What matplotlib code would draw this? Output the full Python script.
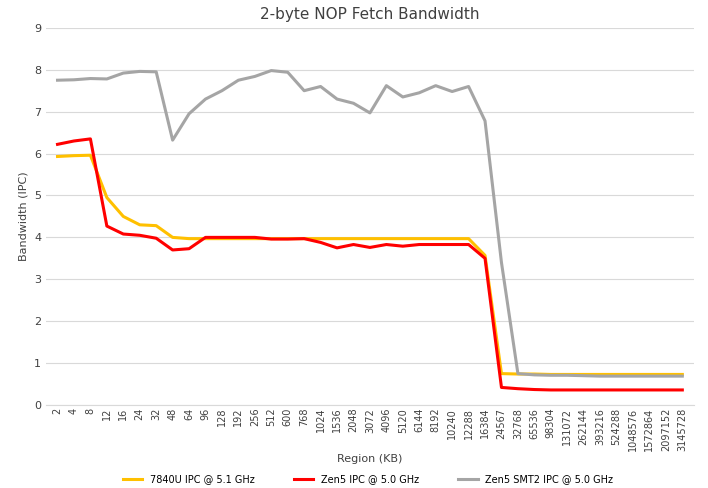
import matplotlib
matplotlib.use("Agg")
import matplotlib.pyplot as plt

regions = ["2","4","8","12","16","24","32","48","64","96","128","192","256","512","600","768","1024","1536","2048","3072","4096","5120","6144","8192","10240","12288","16384","24567","32768","65536","98304","131072","262144","393216","524288","1048576","1572864","2097152","3145728"]
ipc_7840u = [5.93,5.95,5.96,4.95,4.5,4.3,4.28,4.0,3.97,3.97,3.97,3.97,3.97,3.97,3.97,3.97,3.97,3.97,3.97,3.97,3.97,3.97,3.97,3.97,3.97,3.97,3.57,0.75,0.74,0.74,0.73,0.73,0.73,0.73,0.73,0.73,0.73,0.73,0.73]
ipc_zen5 = [6.22,6.3,6.35,4.27,4.08,4.05,3.98,3.7,3.73,4.0,4.0,4.0,4.0,3.96,3.96,3.97,3.88,3.75,3.83,3.76,3.83,3.79,3.83,3.83,3.83,3.83,3.5,0.42,0.39,0.37,0.36,0.36,0.36,0.36,0.36,0.36,0.36,0.36,0.36]
ipc_zen5_smt2 = [7.75,7.76,7.79,7.78,7.92,7.96,7.95,6.32,6.95,7.3,7.5,7.75,7.84,7.98,7.94,7.5,7.6,7.3,7.2,6.97,7.62,7.35,7.45,7.62,7.48,7.6,6.78,3.4,0.75,0.72,0.71,0.71,0.7,0.69,0.69,0.69,0.69,0.69,0.69]

fig = plt.figure(figsize=(7.08, 4.88), dpi=100)
ax = fig.add_axes([0.065, 0.17, 0.915, 0.773])
x = range(len(regions))
ax.plot(x, ipc_7840u, color="#FFC000", lw=2.2, label="7840U IPC @ 5.1 GHz")
ax.plot(x, ipc_zen5, color="#FF0000", lw=2.2, label="Zen5 IPC @ 5.0 GHz")
ax.plot(x, ipc_zen5_smt2, color="#A5A5A5", lw=2.2, label="Zen5 SMT2 IPC @ 5.0 GHz")
ax.set_xticks(list(x))
ax.set_xticklabels(regions, rotation=90, fontsize=7, color="#404040")
ax.set_xlim(-0.7, len(regions) - 0.3)
ax.set_ylim(0, 9)
ax.set_yticks(range(10))
ax.tick_params(axis="y", labelsize=8, colors="#404040", length=0)
ax.tick_params(axis="x", length=0, pad=2)
ax.grid(axis="y", color="#D9D9D9", lw=0.8)
for s in ["top", "right", "left"]:
    ax.spines[s].set_visible(False)
ax.spines["bottom"].set_color("#D9D9D9")
ax.set_axisbelow(True)
ax.set_xlabel("Region (KB)", fontsize=8, color="#404040", labelpad=2)
ax.set_ylabel("Bandwidth (IPC)", fontsize=8, color="#404040")
ax.set_title("2-byte NOP Fetch Bandwidth", fontsize=11, color="#404040")
fig.legend(loc="lower center", ncol=3, frameon=False, fontsize=7, bbox_to_anchor=(0.52, -0.01), columnspacing=4)
fig.savefig("out.png")
